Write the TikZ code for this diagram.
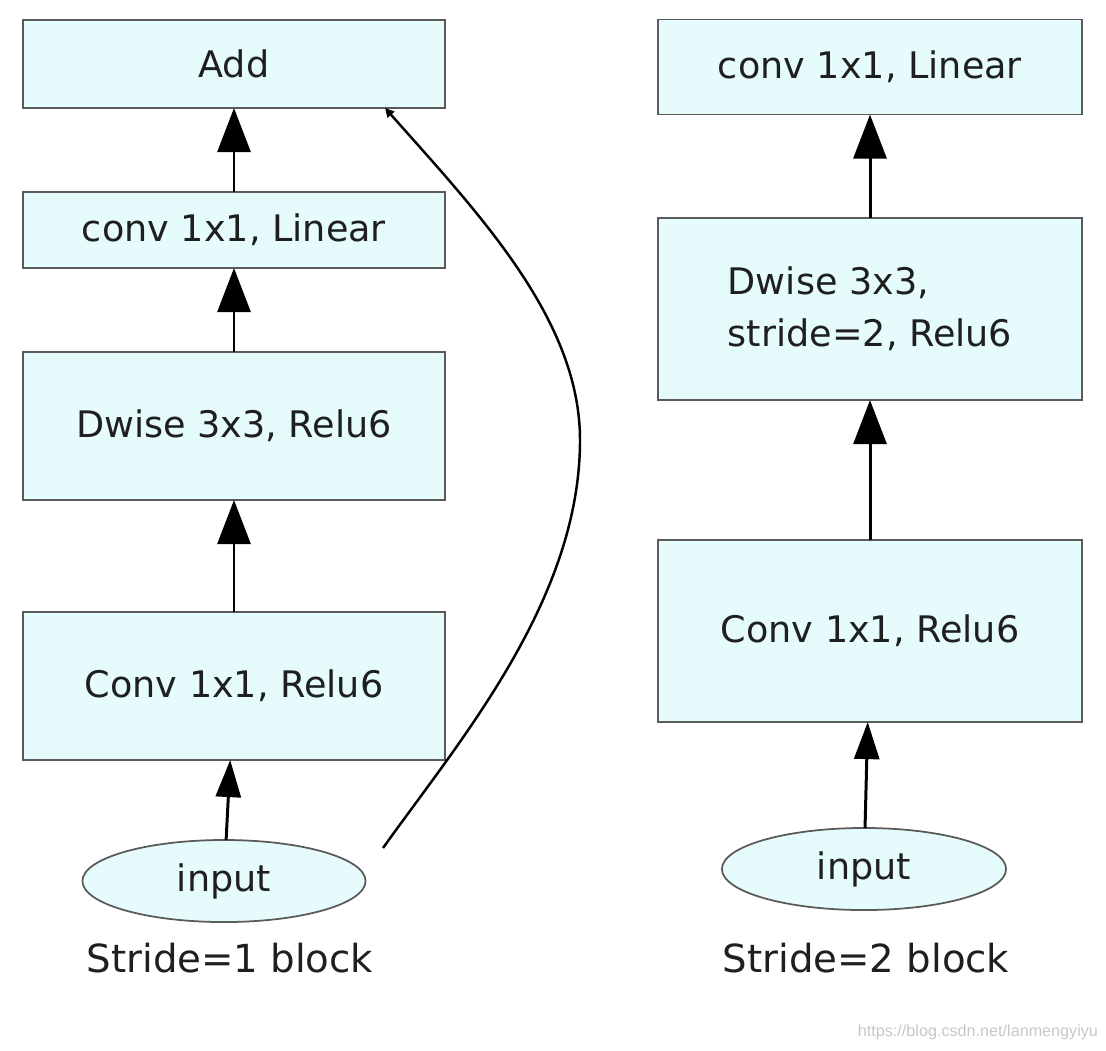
\documentclass[tikz,border=0pt]{standalone}
\usepackage{fontspec}
\setmainfont{DejaVu Sans}
\newfontfamily\wmfont{Liberation Sans}
\usetikzlibrary{arrows.meta, shapes.geometric}
\definecolor{boxfill}{HTML}{E6FCFC}
\definecolor{boxline}{HTML}{5A5A5A}

\begin{document}
\begin{tikzpicture}[
    x=0.01cm, y=-0.01cm,
    every node/.style={inner sep=0pt, outer sep=0pt, text=black!88},
    block/.style={draw=boxline, line width=0.5pt, fill=boxfill, rectangle, align=center,
        font=\fontsize{10.4}{14.8}\selectfont},
    inp/.style={draw=boxline, line width=0.5pt, fill=boxfill, ellipse,
        font=\fontsize{10.4}{12.5}\selectfont},
    caption/.style={font=\fontsize{11}{13}\selectfont},
    flow/.style={draw, line width=0.85pt, -{Triangle[length=0.44cm, width=0.33cm]}},
    flowsmall/.style={draw, line width=0.85pt, -{Triangle[length=0.37cm, width=0.25cm]}},
    skip/.style={draw, line width=0.7pt, -{Triangle[length=0.09cm, width=0.09cm]}}
    ]
    \useasboundingbox (0,0) rectangle (1106,1050);

    % Nodes
    \node[block, minimum width=4.22cm, minimum height=0.88cm] (add) at (234,64) {Add};
    \node[block, minimum width=4.22cm, minimum height=0.76cm] (lineara) at (234,230) {conv 1x1, Linear};
    \node[block, minimum width=4.22cm, minimum height=1.48cm] (dwisea) at (234,426) {Dwise 3x3, Relu6};
    \node[block, minimum width=4.22cm, minimum height=1.48cm] (conva) at (234,686) {Conv 1x1, Relu6};
    \node[inp, minimum width=2.83cm, minimum height=0.82cm] (inputa) at (224,881) {input};
    \node[caption] (capa) at (230,958) {Stride=1 block};
    \coordinate (skipstart) at (383,848);

    \node[block, minimum width=4.24cm, minimum height=0.95cm] (linearb) at (870,67) {conv 1x1, Linear};
    \node[block, minimum width=4.24cm, minimum height=1.82cm, align=left] (dwiseb) at (870,309) {Dwise 3x3,\\stride=2, Relu6};
    \node[block, minimum width=4.24cm, minimum height=1.82cm] (convb) at (870,631) {Conv 1x1, Relu6};
    \node[inp, minimum width=2.84cm, minimum height=0.82cm] (inputb) at (864,869) {input};
    \node[caption] (capb) at (866,958) {Stride=2 block};

    \node[anchor=east, text=black!22, font=\fontsize{4.6}{5}\wmfont] (mark) at (1098,1032) {https://blog.csdn.net/lanmengyiyu};

    % Edges
    \draw[flowsmall] (inputa) -- (conva);
    \draw[flow] (conva) -- (dwisea);
    \draw[flow] (dwisea) -- (lineara);
    \draw[flow] (lineara) -- (add);
    \draw[skip] (skipstart) .. controls (460,740) and (580,600) .. (580,440)
        .. controls (580,320) and (480,215) .. ([xshift=-0.6cm]add.south east);

    \draw[flowsmall] (inputb) -- (convb);
    \draw[flow] (convb) -- (dwiseb);
    \draw[flow] (dwiseb) -- (linearb);

  \end{tikzpicture}
\end{document}
